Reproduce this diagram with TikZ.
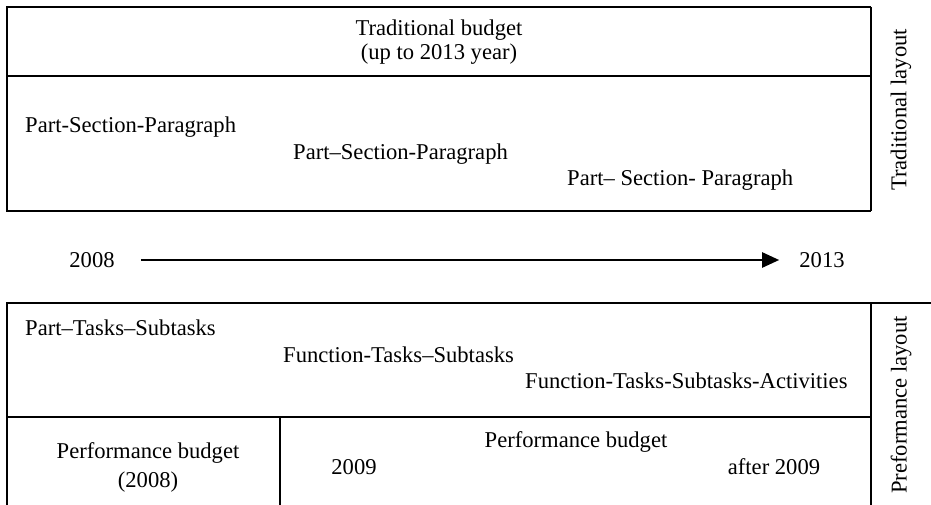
\documentclass[tikz,border=0pt]{standalone}
\usepackage{fontspec}
\setmainfont{Liberation Serif}
\usetikzlibrary{arrows.meta}

\tikzset{
  txt/.style={font=\fontsize{22.6}{24}\selectfont, inner sep=0pt},
  frame/.style={line width=1.9pt},
}

\begin{document}
\begin{tikzpicture}[x=1pt,y=-1pt]
      \useasboundingbox (0,0) rectangle (931,505);

      % Frames
      \draw [frame] (871,7) -- (7,7) -- (7,211) -- (871,211);
      \draw [frame] (7,76) -- (871,76);
      \draw [frame] (871,7) -- (871,211);
      \draw [frame] (931,303) -- (7,303) -- (7,505);
      \draw [frame] (7,417) -- (871,417);
      \draw [frame] (871,303) -- (871,505);
      \draw [frame] (280,417) -- (280,505);

      % Nodes
      \node (tradbudget) [txt, align=center] at (439,42) {Traditional budget\\(up to 2013 year)};
      \node (tradone) [txt, anchor=west] at (25,127) {Part-Section-Paragraph};
      \node (tradtwo) [txt, anchor=west] at (293,154) {Part--Section-Paragraph};
      \node (tradthree) [txt, anchor=west] at (567,180) {Part-- Section- Paragraph};
      \node (tradlayout) [txt, rotate=90] at (901,110) {Traditional layout};

      \node (y2008) [txt] at (92,260) {2008};
      \node (y2013) [txt] at (822,260) {2013};

      \node (perfone) [txt, anchor=west] at (25,328) {Part--Tasks--Subtasks};
      \node (perftwo) [txt, anchor=west] at (283,355) {Function-Tasks--Subtasks};
      \node (perfthree) [txt, anchor=west] at (525,381) {Function-Tasks-Subtasks-Activities};
      \node (perflayout) [txt, rotate=90] at (901,405) {Preformance layout};

      \node (budget2008) [txt, align=center] at (148,467) {Performance budget\\[5pt](2008)};
      \node (budgetmid) [txt] at (576,442) {Performance budget};
      \node (y2009) [txt] at (354,467) {2009};
      \node (after2009) [txt] at (774,467) {after 2009};

      % Arrows
      \draw [-{Triangle[length=17pt,width=15pt]}, line width=2.4pt, shorten <=26pt, shorten >=20pt] (y2008) -- (y2013);
  \end{tikzpicture}
\end{document}
